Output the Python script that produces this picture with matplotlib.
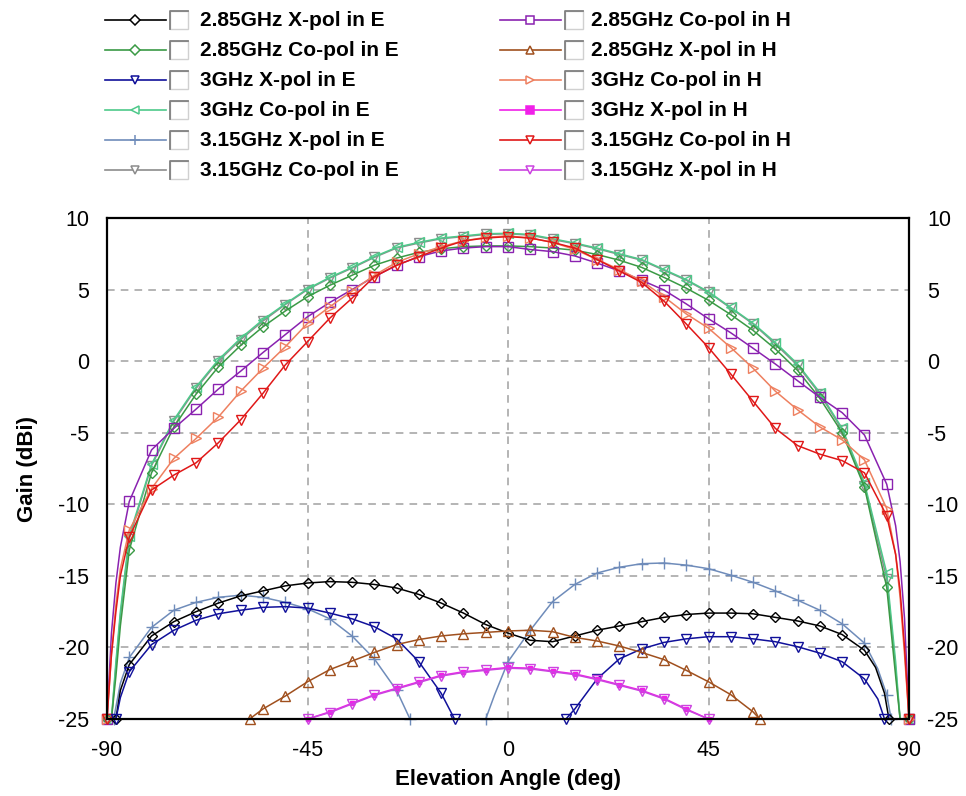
import numpy as np
import matplotlib
matplotlib.use("Agg")
import matplotlib.pyplot as plt
from matplotlib.lines import Line2D
from matplotlib.patches import Rectangle

plt.rcParams['font.family'] = ['Liberation Sans', 'DejaVu Sans']
plt.rcParams['axes.unicode_minus'] = False

# shared angle grid for the co-pol patterns
ang = [-90, -89, -88, -87, -85, -80, -75, -70, -65, -60, -55, -50, -45, -40, -35,
       -30, -25, -20, -15, -10, -5, 0, 5, 10, 15, 20, 25, 30, 35, 40, 45, 50, 55,
       60, 65, 70, 75, 80, 85, 87, 88, 89, 90]

co_e_285 = [-25, -25, -22, -18.5, -13.2, -7.8, -4.6, -2.3, -0.4, 1.1, 2.4, 3.5, 4.5, 5.3,
            6.0, 6.7, 7.2, 7.6, 7.85, 8.0, 8.05, 8.05, 8.0, 7.9, 7.75, 7.45, 7.05, 6.55,
            5.85, 5.1, 4.25, 3.25, 2.15, 0.85, -0.65, -2.6, -5.0, -8.8, -15.8, -22, -25, -25, -25]
co_e_3 = [-25, -25, -21, -17.5, -12.2, -7.2, -4.1, -1.8, 0.1, 1.6, 2.9, 4.0, 5.05, 5.85,
          6.55, 7.3, 7.95, 8.3, 8.6, 8.75, 8.9, 8.93, 8.85, 8.55, 8.25, 7.9, 7.5, 7.1,
          6.4, 5.7, 4.85, 3.75, 2.65, 1.3, -0.2, -2.2, -4.7, -8.5, -14.8, -21, -25, -25, -25]
co_e_315 = [-25, -25, -21.3, -17.8, -12.4, -7.3, -4.2, -1.9, 0.0, 1.5, 2.8, 3.95, 5.0, 5.8,
            6.5, 7.25, 7.9, 8.25, 8.55, 8.7, 8.85, 8.9, 8.8, 8.5, 8.2, 7.85, 7.45, 7.05,
            6.35, 5.65, 4.8, 3.7, 2.6, 1.2, -0.3, -2.3, -4.8, -8.7, -15.2, -21.5, -25, -25, -25]
co_h_285 = [-25, -19, -15.5, -13, -9.8, -6.2, -4.7, -3.35, -1.95, -0.7, 0.6, 1.85, 3.1,
            4.1, 5.0, 5.9, 6.7, 7.3, 7.7, 7.9, 8.0, 8.0, 7.8, 7.65, 7.35, 6.85, 6.3, 5.65,
            4.97, 4.0, 2.96, 1.98, 0.9, -0.2, -1.37, -2.53, -3.6, -5.16, -8.6, -11.5, -14,
            -18, -25]
co_h_3 = [-25, -20.5, -17, -14.5, -11.8, -8.9, -6.8, -5.4, -3.9, -2.1, -0.5, 1.0, 2.64,
          3.8, 4.9, 6.0, 6.9, 7.5, 8.0, 8.4, 8.65, 8.75, 8.6, 8.3, 7.8, 7.1, 6.4, 5.6, 4.5,
          3.3, 2.3, 0.95, -0.5, -2.1, -3.4, -4.6, -5.5, -6.9, -10.3, -13.5, -16.5, -20.5, -25]
co_h_315 = [-25, -20.5, -17.5, -15, -12.3, -9.0, -7.96, -7.1, -5.7, -4.1, -2.25, -0.27,
            1.36, 3.0, 4.4, 5.9, 6.7, 7.3, 7.9, 8.4, 8.6, 8.7, 8.6, 8.3, 7.9, 7.1, 6.3, 5.5,
            4.2, 2.6, 0.95, -0.9, -2.8, -4.7, -5.9, -6.5, -6.95, -7.8, -10.8, -13.5, -16,
            -20, -25]

# cross-pol patterns (each has its own angle span)
xe_285_ang = [-88, -87, -85, -80, -75, -70, -65, -60, -55, -50, -45, -40, -35, -30, -25,
              -20, -15, -10, -5, 0, 5, 10, 15, 20, 25, 30, 35, 40, 45, 50, 55, 60, 65, 70,
              75, 80, 82.5, 84.5, 85.5]
xe_285 = [-25, -23, -21.2, -19.2, -18.2, -17.5, -16.9, -16.4, -16.05, -15.7, -15.5, -15.4,
          -15.45, -15.6, -15.85, -16.3, -16.9, -17.6, -18.4, -19.0, -19.5, -19.6, -19.2,
          -18.8, -18.5, -18.2, -17.9, -17.7, -17.6, -17.6, -17.65, -17.9, -18.15, -18.5,
          -19.1, -20.2, -21.4, -23.2, -25]

xe_3a_ang = [-88, -87, -85, -80, -75, -70, -65, -60, -55, -50, -45, -40, -35, -30, -25,
             -20, -15, -12]
xe_3a = [-25, -23.5, -21.7, -19.8, -18.8, -18.1, -17.65, -17.4, -17.2, -17.15, -17.25,
         -17.6, -18.0, -18.55, -19.4, -21.0, -23.2, -25]
xe_3b_ang = [13, 15, 20, 25, 30, 35, 40, 45, 50, 55, 60, 65, 70, 75, 80, 83, 84.5]
xe_3b = [-25, -24.3, -22.2, -20.8, -20.1, -19.65, -19.4, -19.25, -19.25, -19.4, -19.6,
         -19.95, -20.4, -21.0, -22.2, -23.6, -25]

xe_315a_ang = [-88.5, -87, -85, -80, -75, -70, -65, -60, -55, -50, -45, -40, -35, -30,
               -25, -22]
xe_315a = [-25, -22.5, -20.7, -18.6, -17.4, -16.85, -16.5, -16.35, -16.5, -16.85, -17.3,
           -18.0, -19.2, -20.8, -23.0, -25]
xe_315b_ang = [-5, -3, 0, 5, 10, 15, 20, 25, 30, 35, 40, 45, 50, 55, 60, 65, 70, 75, 80,
               83, 85, 86]
xe_315b = [-25, -23.3, -21.0, -18.8, -16.8, -15.6, -14.8, -14.4, -14.15, -14.1, -14.25,
           -14.5, -14.95, -15.45, -16.05, -16.7, -17.4, -18.35, -19.7, -21.5, -23.3, -25]

xh_285_ang = [-58, -55, -50, -45, -40, -35, -30, -25, -20, -15, -10, -5, 0, 5, 10, 15, 20,
              25, 30, 35, 40, 45, 50, 55, 56.5]
xh_285 = [-25, -24.3, -23.4, -22.4, -21.55, -20.95, -20.35, -19.8, -19.45, -19.2, -19.05,
          -18.95, -18.85, -18.8, -18.9, -19.3, -19.55, -19.9, -20.35, -20.85, -21.6, -22.4,
          -23.3, -24.5, -25]

xh_ang = [-45, -40, -35, -30, -25, -20, -15, -10, -5, 0, 5, 10, 15, 20, 25, 30, 35, 40, 45]
xh_3 = [-25, -24.5, -23.9, -23.3, -22.85, -22.4, -21.95, -21.7, -21.55, -21.4, -21.45,
        -21.65, -21.85, -22.2, -22.6, -23.0, -23.55, -24.3, -25]
xh_315 = [-25, -24.55, -23.95, -23.35, -22.9, -22.45, -22.0, -21.75, -21.6, -21.45, -21.5,
          -21.7, -21.9, -22.25, -22.65, -23.05, -23.6, -24.35, -25]

labels = ["2.85GHz X-pol in E", "2.85GHz Co-pol in E", "3GHz X-pol in E", "3GHz Co-pol in E",
          "3.15GHz X-pol in E", "3.15GHz Co-pol in E", "2.85GHz Co-pol in H",
          "2.85GHz X-pol in H", "3GHz Co-pol in H", "3GHz X-pol in H",
          "3.15GHz Co-pol in H", "3.15GHz X-pol in H"]

styles = {
    "2.85GHz X-pol in E": dict(color="black", marker="D", ms=5.5),
    "2.85GHz Co-pol in E": dict(color="#3a9a45", marker="D", ms=5.5),
    "3GHz X-pol in E": dict(color="#10109a", marker="v", ms=7),
    "3GHz Co-pol in E": dict(color="#4ec98a", marker="<", ms=7),
    "3.15GHz X-pol in E": dict(color="#6f8cba", marker="+", ms=9),
    "3.15GHz Co-pol in E": dict(color="#8c8c8c", marker="v", ms=7),
    "2.85GHz Co-pol in H": dict(color="#8a22b0", marker="s", ms=6.5),
    "2.85GHz X-pol in H": dict(color="#a0501e", marker="^", ms=7),
    "3GHz Co-pol in H": dict(color="#ee8060", marker=">", ms=7),
    "3GHz X-pol in H": dict(color="#f020e8", marker="s", ms=6.5, filled=True),
    "3.15GHz Co-pol in H": dict(color="#e01818", marker="v", ms=7),
    "3.15GHz X-pol in H": dict(color="#cc44e0", marker="v", ms=7),
}

fig = plt.figure(figsize=(9.66, 7.96), dpi=100)
ax = fig.add_axes([107 / 966, 1 - 719 / 796, 802 / 966, 501 / 796])


def draw(x, y, name, ms=None):
    st = styles[name]
    x = np.asarray(x, dtype=float)
    idx = [i for i, v in enumerate(x) if v % 5 == 0 or i in (0, len(x) - 1)]
    fc = st["color"] if st.get("filled") else "none"
    ax.plot(x, y, color=st["color"], lw=1.1, marker=st["marker"], ms=ms or st["ms"],
            mfc=fc, mec=st["color"], mew=1.0, markevery=idx, clip_on=False)


draw(ang, co_e_315, "3.15GHz Co-pol in E")
draw(ang, co_e_3, "3GHz Co-pol in E")
draw(ang, co_e_285, "2.85GHz Co-pol in E")
draw(ang, co_h_285, "2.85GHz Co-pol in H")
draw(ang, co_h_3, "3GHz Co-pol in H")
draw(ang, co_h_315, "3.15GHz Co-pol in H")
draw(xe_315a_ang, xe_315a, "3.15GHz X-pol in E")
draw(xe_315b_ang, xe_315b, "3.15GHz X-pol in E")
draw(xe_285_ang, xe_285, "2.85GHz X-pol in E")
draw(xe_3a_ang, xe_3a, "3GHz X-pol in E")
draw(xe_3b_ang, xe_3b, "3GHz X-pol in E")
draw(xh_285_ang, xh_285, "2.85GHz X-pol in H")
draw(xh_ang, xh_3, "3GHz X-pol in H", ms=3.5)
draw(xh_ang, xh_315, "3.15GHz X-pol in H")

ax.set_xlim(-90, 90)
ax.set_ylim(-25, 10)
ax.set_xticks([-90, -45, 0, 45, 90])
ax.set_yticks(np.arange(-25, 11, 5))
ax.grid(True, color="#a0a0a0", ls=(0, (5, 4)), lw=1.1)
ax.tick_params(axis="both", length=0, labelsize=15.5)
ax.tick_params(axis="y", pad=13, right=True, labelright=True)
ax.tick_params(axis="x", pad=15)
for s in ax.spines.values():
    s.set_linewidth(1.6)
ax.set_xlabel("Elevation Angle (deg)", fontsize=16, fontweight="bold", labelpad=6)
ax.set_ylabel("Gain (dBi)", fontsize=16, fontweight="bold", labelpad=14)

# legend with check boxes, laid out like the original panel
rows = [20, 50, 80, 110, 140, 170]
cols = [(105, 200), (500, 591)]
for k, name in enumerate(labels):
    c, r = divmod(k, 6)
    x0, xt = cols[c]
    yf = 1 - rows[r] / 796
    st = styles[name]
    fc = st["color"] if st.get("filled") else "white"
    fig.add_artist(Line2D([x0 / 966, (x0 + 61) / 966], [yf, yf], color=st["color"], lw=1.2,
                          transform=fig.transFigure))
    fig.add_artist(Line2D([(x0 + 30) / 966], [yf], color=st["color"], marker=st["marker"],
                          ms=st["ms"] * 0.85, mfc=fc, mec=st["color"], mew=1.1,
                          transform=fig.transFigure))
    bx = x0 + 65
    fig.add_artist(Rectangle((bx / 966, yf - 9 / 796), 18 / 966, 18 / 796, fill=True,
                             fc="white", ec="#d0d0d0", lw=1.0, transform=fig.transFigure))
    fig.add_artist(Line2D([bx / 966, bx / 966, (bx + 18) / 966],
                          [yf - 9 / 796, yf + 9 / 796, yf + 9 / 796], color="#808080",
                          lw=1.3, transform=fig.transFigure))
    fig.text(xt / 966, yf, name, fontsize=15, fontweight="bold", va="center", ha="left")

fig.savefig("out.png", dpi=100)
